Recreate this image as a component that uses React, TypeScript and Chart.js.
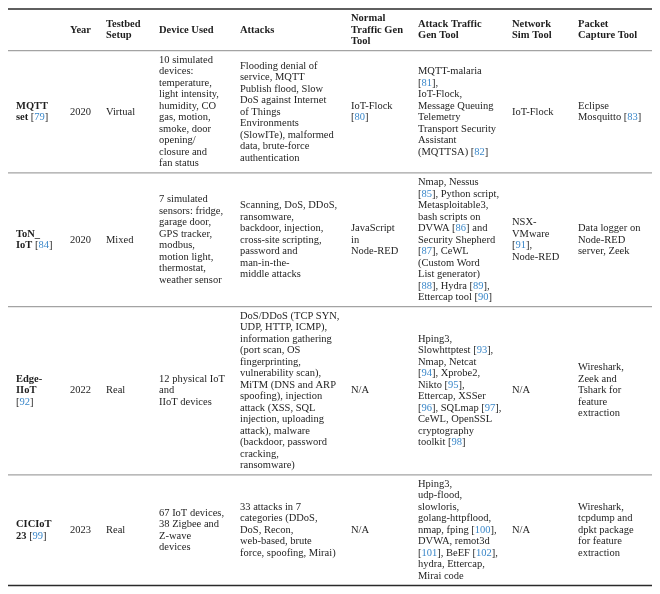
import React, { useEffect, useRef } from "react";
import { Chart, registerables } from "chart.js";

Chart.register(...registerables);

// ---- table content (data) ----
const headers = [
  "",
  "Year",
  "Testbed\nSetup",
  "Device Used",
  "Attacks",
  "Normal\nTraffic Gen\nTool",
  "Attack Traffic\nGen Tool",
  "Network\nSim Tool",
  "Packet\nCapture Tool",
];

const datasetNames = ["MQTT\nset [79]", "ToN_\nIoT [84]", "Edge-\nIIoT\n[92]", "CICIoT\n23 [99]"];
const years = ["2020", "2020", "2022", "2023"];
const setups = ["Virtual", "Mixed", "Real", "Real"];
const devices = [
  "10 simulated\ndevices:\ntemperature,\nlight intensity,\nhumidity, CO\ngas, motion,\nsmoke, door\nopening/\nclosure and\nfan status",
  "7 simulated\nsensors: fridge,\ngarage door,\nGPS tracker,\nmodbus,\nmotion light,\nthermostat,\nweather sensor",
  "12 physical IoT\nand\nIIoT devices",
  "67 IoT devices,\n38 Zigbee and\nZ-wave\ndevices",
];
const attacks = [
  "Flooding denial of\nservice, MQTT\nPublish flood, Slow\nDoS against Internet\nof Things\nEnvironments\n(SlowITe), malformed\ndata, brute-force\nauthentication",
  "Scanning, DoS, DDoS,\nransomware,\nbackdoor, injection,\ncross-site scripting,\npassword and\nman-in-the-\nmiddle attacks",
  "DoS/DDoS (TCP SYN,\nUDP, HTTP, ICMP),\ninformation gathering\n(port scan, OS\nfingerprinting,\nvulnerability scan),\nMiTM (DNS and ARP\nspoofing), injection\nattack (XSS, SQL\ninjection, uploading\nattack), malware\n(backdoor, password\ncracking,\nransomware)",
  "33 attacks in 7\ncategories (DDoS,\nDoS, Recon,\nweb-based, brute\nforce, spoofing, Mirai)",
];
const normalTools = ["IoT-Flock\n[80]", "JavaScript\nin\nNode-RED", "N/A", "N/A"];
const attackTools = [
  "MQTT-malaria\n[81],\nIoT-Flock,\nMessage Queuing\nTelemetry\nTransport Security\nAssistant\n(MQTTSA) [82]",
  "Nmap, Nessus\n[85], Python script,\nMetasploitable3,\nbash scripts on\nDVWA [86] and\nSecurity Shepherd\n[87], CeWL\n(Custom Word\nList generator)\n[88], Hydra [89],\nEttercap tool [90]",
  "Hping3,\nSlowhttptest [93],\nNmap, Netcat\n[94], Xprobe2,\nNikto [95],\nEttercap, XSSer\n[96], SQLmap [97],\nCeWL, OpenSSL\ncryptography\ntoolkit [98]",
  "Hping3,\nudp-flood,\nslowloris,\ngolang-httpflood,\nnmap, fping [100],\nDVWA, remot3d\n[101], BeEF [102],\nhydra, Ettercap,\nMirai code",
];
const netSimTools = ["IoT-Flock", "NSX-\nVMware\n[91],\nNode-RED", "N/A", "N/A"];
const captureTools = [
  "Eclipse\nMosquitto [83]",
  "Data logger on\nNode-RED\nserver, Zeek",
  "Wireshark,\nZeek and\nTshark for\nfeature\nextraction",
  "Wireshark,\ntcpdump and\ndpkt package\nfor feature\nextraction",
];

// ---- layout / style ----
const W = 660;
const H = 594;
const COL_X = [16, 70, 106, 159, 240, 351, 418, 512, 578];
const RULE_X0 = 8;
const RULE_X1 = 652;
const TOP_Y = 9;
const LINE_H = 11.5;
const PAD = 3.6;
const FONT_SIZE = 10.5;
const FAMILY = '"Liberation Serif", "Times New Roman", serif';
const TEXT_COLOR = "#1e1e1e";
const CITE_COLOR = "#3a87c9";

function drawRich(ctx: CanvasRenderingContext2D, text: string, x: number, y: number, bold: boolean) {
  const parts = text.split(/(\[\d+\])/);
  let cx = x;
  for (const part of parts) {
    if (!part) continue;
    const m = part.match(/^\[(\d+)\]$/);
    if (m) {
      ctx.font = `${FONT_SIZE}px ${FAMILY}`;
      const segs: [string, string][] = [
        ["[", TEXT_COLOR],
        [m[1], CITE_COLOR],
        ["]", TEXT_COLOR],
      ];
      for (const [s, c] of segs) {
        ctx.fillStyle = c;
        ctx.fillText(s, cx, y);
        cx += ctx.measureText(s).width;
      }
    } else {
      ctx.font = `${bold ? "bold " : ""}${FONT_SIZE}px ${FAMILY}`;
      ctx.fillStyle = TEXT_COLOR;
      ctx.fillText(part, cx, y);
      cx += ctx.measureText(part).width;
    }
  }
}

const tablePlugin = {
  id: "tablePlugin",
  afterDraw(chart: any) {
    const ctx: CanvasRenderingContext2D = chart.ctx;
    const xs = chart.scales.x;
    const ys = chart.scales.y;
    const rows: { cells: string[]; bold: boolean[] }[] = [];
    rows.push({ cells: headers, bold: headers.map(() => true) });
    for (let i = 0; i < datasetNames.length; i++) {
      const cells = [
        datasetNames[i],
        years[i],
        setups[i],
        devices[i],
        attacks[i],
        normalTools[i],
        attackTools[i],
        netSimTools[i],
        captureTools[i],
      ];
      rows.push({ cells, bold: cells.map((_, j) => j === 0) });
    }
    ctx.save();
    ctx.textBaseline = "middle";
    ctx.textAlign = "left";
    let top = TOP_Y;
    const bounds: number[] = [top];
    rows.forEach((row) => {
      const maxLines = Math.max(...row.cells.map((c) => c.split("\n").length));
      const h = maxLines * LINE_H + 2 * PAD;
      const center = top + h / 2;
      row.cells.forEach((cell, j) => {
        const lines = cell.split("\n");
        const start = center - ((lines.length - 1) * LINE_H) / 2;
        lines.forEach((ln, k) => {
          drawRich(ctx, ln, xs.getPixelForValue(COL_X[j]), ys.getPixelForValue(start + k * LINE_H), row.bold[j]);
        });
      });
      top += h;
      bounds.push(top);
    });
    // rules
    bounds.forEach((b, i) => {
      const outer = i === 0 || i === bounds.length - 1;
      ctx.beginPath();
      ctx.strokeStyle = outer ? "#2a2a2a" : "#a3a3a3";
      ctx.lineWidth = outer ? 1.3 : 1.2;
      const yy = ys.getPixelForValue(b);
      ctx.moveTo(xs.getPixelForValue(RULE_X0), yy);
      ctx.lineTo(xs.getPixelForValue(RULE_X1), yy);
      ctx.stroke();
    });
    ctx.restore();
  },
};

export default function App() {
  const ref = useRef<HTMLCanvasElement>(null);
  useEffect(() => {
    document.body.style.margin = "0";
    const chart = new Chart(ref.current as HTMLCanvasElement, {
      type: "scatter",
      data: { datasets: [{ data: [], pointRadius: 0 }] },
      options: {
        animation: false,
        responsive: false,
        maintainAspectRatio: false,
        layout: { padding: 0 },
        plugins: { legend: { display: false }, tooltip: { enabled: false } },
        scales: {
          x: { type: "linear", min: 0, max: W, display: false },
          y: { type: "linear", min: 0, max: H, reverse: true, display: false },
        },
      },
      plugins: [tablePlugin],
    });
    return () => chart.destroy();
  }, []);
  return (
    <div style={{ width: W, height: H, background: "#fff" }}>
      <canvas ref={ref} width={W} height={H} style={{ display: "block" }} />
    </div>
  );
}
